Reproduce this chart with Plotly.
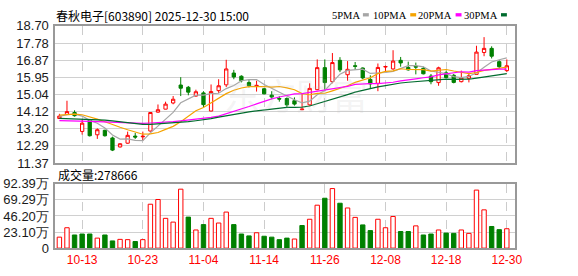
import plotly.graph_objects as go

# ---------------- data ----------------
dates = ["09-30", "10-09", "10-10", "10-13", "10-14", "10-15", "10-16", "10-17", "10-20", "10-21",
         "10-22", "10-23", "10-24", "10-27", "10-28", "10-29", "10-30", "10-31", "11-03", "11-04",
         "11-05", "11-06", "11-07", "11-10", "11-11", "11-12", "11-13", "11-14", "11-17", "11-18",
         "11-19", "11-20", "11-21", "11-24", "11-25", "11-26", "11-27", "11-28", "12-01", "12-02",
         "12-03", "12-04", "12-05", "12-08", "12-09", "12-10", "12-11", "12-12", "12-15", "12-16",
         "12-17", "12-18", "12-19", "12-22", "12-23", "12-24", "12-25", "12-26", "12-29", "12-30"]

open_ = [13.75, 13.97, 14.07, 13.06, 13.66, 12.88, 13.12, 12.71, 12.23, 12.43,
         12.81, 12.77, 13.08, 14.09, 14.25, 14.58, 15.54, 15.42, 14.95, 15.12,
         14.15, 15.24, 15.55, 16.18, 16.01, 15.67, 15.48, 15.34, 15.00, 14.82,
         14.82, 14.70, 14.22, 14.48, 15.29, 16.47, 15.72, 16.86, 16.09, 16.57,
         16.45, 15.84, 15.63, 16.50, 16.40, 16.86, 16.48, 16.55, 16.43, 16.02,
         15.67, 16.19, 16.06, 15.72, 15.90, 16.11, 17.28, 17.50, 16.79, 16.31]
high = [14.00, 14.70, 14.19, 13.72, 13.72, 13.22, 13.15, 12.78, 12.43, 13.05,
        12.98, 13.05, 14.08, 14.50, 14.65, 14.95, 15.96, 15.49, 15.29, 15.21,
        15.57, 15.85, 16.89, 16.35, 16.06, 15.80, 15.77, 15.38, 15.21, 14.95,
        14.88, 14.88, 15.05, 15.63, 16.91, 16.91, 17.25, 17.03, 16.82, 16.77,
        16.48, 16.06, 16.69, 16.58, 17.40, 17.04, 16.79, 16.74, 16.52, 16.13,
        16.52, 16.30, 16.13, 16.31, 16.18, 17.64, 18.10, 17.61, 16.86, 16.91]
low = [13.72, 13.95, 13.85, 12.89, 12.79, 12.66, 12.78, 12.01, 12.20, 12.40,
       12.66, 12.57, 13.05, 14.06, 14.24, 14.51, 14.95, 14.99, 14.92, 14.36,
       14.14, 15.12, 15.43, 15.85, 15.68, 15.41, 15.19, 15.04, 14.78, 14.65,
       14.32, 14.44, 14.20, 14.44, 15.26, 15.21, 15.63, 16.23, 15.77, 16.35,
       15.85, 15.33, 15.21, 16.23, 16.36, 16.52, 16.31, 16.11, 16.11, 15.58,
       15.50, 15.89, 15.63, 15.68, 15.68, 16.11, 17.08, 16.96, 16.40, 16.23]
close = [13.88, 14.12, 13.90, 13.50, 12.83, 13.15, 12.83, 12.06, 12.40, 12.85,
         12.76, 12.80, 14.07, 14.22, 14.52, 14.78, 15.37, 15.16, 15.18, 14.49,
         15.19, 15.50, 16.40, 15.97, 15.77, 15.50, 15.52, 15.07, 14.90, 14.79,
         14.48, 14.52, 14.25, 15.36, 16.47, 15.67, 16.74, 16.35, 16.38, 16.54,
         15.92, 15.60, 16.48, 16.53, 16.82, 16.72, 16.35, 16.50, 16.14, 15.72,
         16.46, 15.94, 15.68, 15.92, 16.04, 17.30, 17.50, 17.08, 16.52, 16.57]

ma5 = [13.86, 13.95, 13.98, 13.88, 13.65, 13.50, 13.24, 12.87, 12.65, 12.66,
       12.58, 12.57, 12.98, 13.34, 13.67, 14.08, 14.59, 14.81, 15.00, 15.00,
       15.08, 15.10, 15.35, 15.51, 15.77, 15.83, 15.83, 15.57, 15.35, 15.16,
       14.95, 14.75, 14.59, 14.68, 15.02, 15.25, 15.70, 16.12, 16.32, 16.34,
       16.39, 16.16, 16.18, 16.21, 16.27, 16.43, 16.58, 16.58, 16.51, 16.29,
       16.23, 16.15, 15.99, 15.94, 16.01, 16.18, 16.49, 16.77, 16.89, 16.99]
ma10 = [13.93, 13.96, 13.98, 13.95, 13.85, 13.72, 13.58, 13.42, 13.28, 13.15,
        13.04, 12.91, 12.93, 13.00, 13.17, 13.33, 13.58, 13.89, 14.17, 14.34,
        14.58, 14.85, 15.08, 15.26, 15.38, 15.45, 15.47, 15.46, 15.43, 15.46,
        15.39, 15.29, 15.08, 15.02, 15.09, 15.10, 15.23, 15.35, 15.50, 15.68,
        15.82, 15.93, 16.15, 16.27, 16.30, 16.41, 16.37, 16.38, 16.36, 16.28,
        16.33, 16.37, 16.29, 16.23, 16.15, 16.21, 16.32, 16.38, 16.42, 16.50]
ma20 = [13.64, 13.64, 13.64, 13.62, 13.60, 13.58, 13.56, 13.53, 13.51, 13.50,
        13.49, 13.49, 13.51, 13.52, 13.55, 13.58, 13.62, 13.66, 13.70, 13.74,
        13.81, 13.88, 14.00, 14.13, 14.27, 14.39, 14.53, 14.68, 14.80, 14.90,
        14.98, 15.07, 15.08, 15.14, 15.23, 15.28, 15.35, 15.41, 15.47, 15.57,
        15.61, 15.61, 15.61, 15.64, 15.69, 15.76, 15.80, 15.87, 15.93, 15.98,
        16.08, 16.15, 16.22, 16.25, 16.23, 16.31, 16.34, 16.38, 16.39, 16.39]
ma30 = [13.76, 13.75, 13.74, 13.72, 13.70, 13.68, 13.66, 13.62, 13.57, 13.50,
        13.46, 13.44, 13.44, 13.46, 13.48, 13.51, 13.54, 13.58, 13.63, 13.68,
        13.74, 13.82, 13.90, 13.97, 14.04, 14.10, 14.16, 14.21, 14.26, 14.32,
        14.34, 14.35, 14.36, 14.42, 14.54, 14.63, 14.76, 14.90, 15.03, 15.16,
        15.26, 15.36, 15.44, 15.51, 15.59, 15.65, 15.69, 15.73, 15.76, 15.81,
        15.85, 15.86, 15.84, 15.84, 15.85, 15.91, 15.97, 16.04, 16.09, 16.15]

# volume in 万 (10k shares)
volume = [15.8, 29.3, 18.9, 20.3, 20.3, 14.4, 18.9, 10.4, 12.6, 12.2,
          9.5, 12.2, 63.1, 69.9, 42.8, 37.4, 84.7, 44.6, 26.1, 33.8,
          42.8, 36.1, 51.8, 33.8, 20.3, 17.6, 22.1, 17.1, 15.8, 12.2,
          14.4, 13.1, 32.5, 41.5, 61.7, 71.7, 85.6, 64.5, 57.7, 44.2,
          33.4, 25.2, 41.5, 29.3, 45.5, 23.9, 23.9, 32.0, 18.9, 20.3,
          26.1, 21.6, 21.2, 26.1, 21.2, 83.4, 55.0, 31.1, 26.6, 27.8666]

price_ticks = [11.37, 12.29, 13.20, 14.12, 15.04, 15.95, 16.87, 17.78, 18.70]
price_labels = ["11.37", "12.29", "13.20", "14.12", "15.04", "15.95", "16.87", "17.78", "18.70"]
vol_ticks = [0, 23.10, 46.20, 69.29, 92.39]
vol_labels = ["0", "23.10万", "46.20万", "69.29万", "92.39万"]
date_ticks = ["10-13", "10-23", "11-04", "11-14", "11-26", "12-08", "12-18", "12-30"]

title_text = "春秋电子[603890] 2025-12-30 15:00"
vol_title = "成交量:278666"
ma_names = ["5PMA", "10PMA", "20PMA", "30PMA"]
ma_colors = ["#a6a6a6", "#f5a300", "#ff00ff", "#006b2e"]

# ---------------- layout geometry ----------------
W, H = 578, 276
PL, PR = 56, 522
MAIN_T, MAIN_B = 20, 165
VOL_T, VOL_B = 187, 255


def px(x):
    return x / W


def py(y):
    return 1 - y / H


RED = "#ff0000"
GREEN = "#008000"

fig = go.Figure()

fig.add_trace(go.Candlestick(
    x=dates, open=open_, high=high, low=low, close=close,
    increasing=dict(line=dict(color=RED, width=1), fillcolor="#ffffff"),
    decreasing=dict(line=dict(color=GREEN, width=1), fillcolor=GREEN),
    whiskerwidth=0, showlegend=False, hoverinfo="skip",
    xaxis="x", yaxis="y"))

for name, vals, col in zip(ma_names, [ma5, ma10, ma20, ma30], ma_colors):
    fig.add_trace(go.Scatter(x=dates, y=vals, mode="lines", name=name,
                             line=dict(color=col, width=1.2), showlegend=False,
                             hoverinfo="skip", xaxis="x", yaxis="y"))

vol_fill, vol_line = [], []
for i in range(len(close)):
    ref = close[i - 1] if i > 0 else open_[i]
    up = close[i] >= ref
    vol_fill.append("#ffffff" if up else GREEN)
    vol_line.append(RED if up else GREEN)

fig.add_trace(go.Bar(x=dates, y=volume,
                     marker=dict(color=vol_fill, line=dict(color=vol_line, width=1)),
                     showlegend=False, hoverinfo="skip", xaxis="x2", yaxis="y2"))

xcommon = dict(type="category", categoryorder="array", categoryarray=dates,
               range=[-0.55, 60.05], tickmode="array", tickvals=date_ticks,
               showgrid=True, gridcolor="#cccccc", griddash="dash", gridwidth=1,
               showline=True, mirror=True, linecolor="#999999", linewidth=1.5,
               ticks="", zeroline=False, fixedrange=True)

fig.update_layout(
    width=W, height=H, margin=dict(l=0, r=0, t=0, b=0),
    paper_bgcolor="#ffffff", plot_bgcolor="#ffffff",
    showlegend=False, bargap=0.42, boxgap=0.38,
    xaxis=dict(domain=[px(PL), px(PR)], anchor="y", showticklabels=False,
               rangeslider=dict(visible=False), **xcommon),
    yaxis=dict(domain=[py(MAIN_B), py(MAIN_T)], anchor="x", range=[11.37, 18.70],
               tickmode="array", tickvals=price_ticks, ticktext=price_labels,
               showgrid=True, gridcolor="#d0d0d0", gridwidth=1,
               showline=True, mirror=True, linecolor="#999999", linewidth=1.5,
               ticks="", zeroline=False, ticklabelstandoff=2,
               tickfont=dict(family="Liberation Sans, Arial", size=13, color="#1a1a1a")),
    xaxis2=dict(domain=[px(PL), px(PR)], anchor="y2", showticklabels=True,
                tickfont=dict(family="Liberation Sans, Arial", size=12, color=RED),
                **xcommon),
    yaxis2=dict(domain=[py(VOL_B), py(VOL_T)], anchor="x2", range=[0, 92.39],
                tickmode="array", tickvals=vol_ticks, ticktext=vol_labels,
                showgrid=True, gridcolor="#d0d0d0", gridwidth=1,
                showline=True, mirror=True, linecolor="#999999", linewidth=1.5,
                ticks="", zeroline=False, ticklabelstandoff=2,
                tickfont=dict(family="Liberation Sans, Arial", size=13, color="#1a1a1a")),
)

annotations = [
    dict(text=title_text, x=px(55), y=py(8.5), xref="paper", yref="paper",
         xanchor="left", yanchor="middle", showarrow=False,
         font=dict(family="Noto Sans CJK SC", size=12, color="#000000")),
    dict(text=vol_title, x=px(57), y=py(177), xref="paper", yref="paper",
         xanchor="left", yanchor="middle", showarrow=False,
         font=dict(family="Noto Sans CJK SC", size=12, color="#000000")),
    dict(text="东方财富", x=px(300), y=py(92), xref="paper", yref="paper",
         xanchor="center", yanchor="middle", showarrow=False,
         font=dict(family="Noto Sans CJK SC", size=36, color="rgba(190,190,190,0.18)")),
]

shapes = []
leg_text_x = [335, 376, 422, 468]
leg_sq_x = [368, 416, 462, 508]
for name, col, tx, sx in zip(ma_names, ma_colors, leg_text_x, leg_sq_x):
    annotations.append(dict(text=name, x=px(tx), y=py(8.5), xref="paper", yref="paper",
                            xanchor="left", yanchor="middle", showarrow=False,
                            font=dict(family="Liberation Serif, Times New Roman", size=10.5,
                                      color="#000000")))
    shapes.append(dict(type="rect", xref="paper", yref="paper",
                       x0=px(sx), x1=px(sx + 6), y0=py(10), y1=py(6.5),
                       fillcolor=col, line=dict(width=0)))

fig.update_layout(annotations=annotations, shapes=shapes)

fig.write_html("out.html")
